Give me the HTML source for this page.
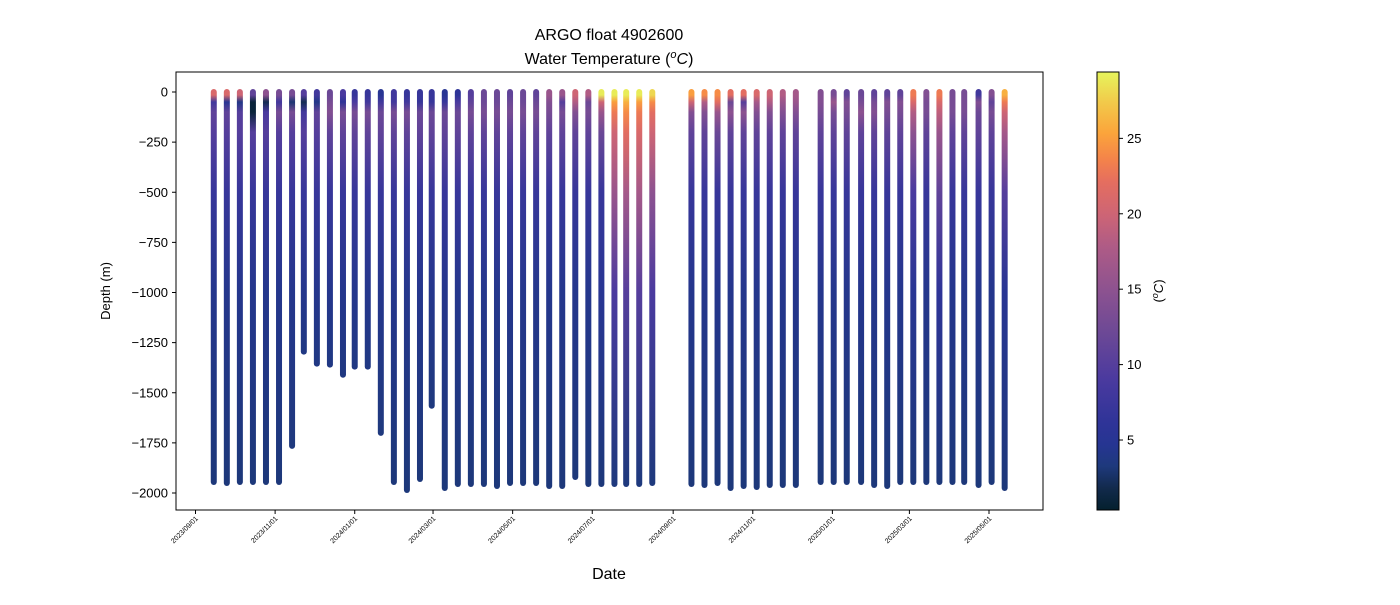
<!DOCTYPE html>
<html><head><meta charset="utf-8"><style>
body{margin:0;background:#fff;}
svg text{font-family:"Liberation Sans","DejaVu Sans",sans-serif;}
</style></head><body>
<svg id="chart" xmlns="http://www.w3.org/2000/svg" width="1400" height="600" viewBox="0 0 1400 600">
<defs id="defs"></defs>
<text x="609" y="40" font-size="16" text-anchor="middle">ARGO float 4902600</text>
<text x="609" y="64" font-size="16" text-anchor="middle">Water Temperature (<tspan font-style="italic" font-size="11" dy="-6">o</tspan><tspan font-style="italic" dy="6">C</tspan>)</text>
<g id="plot"></g>
<rect x="176" y="72" width="867" height="438" fill="none" stroke="#000" stroke-width="1"/>
<g id="yaxis"></g>
<g id="xaxis"></g>
<text transform="translate(110,291) rotate(-90)" font-size="13" text-anchor="middle">Depth (m)</text>
<text x="609" y="579" font-size="16" text-anchor="middle">Date</text>
<g id="cbar"></g>
<text transform="translate(1163,291) rotate(-90)" font-size="13" text-anchor="middle">(<tspan font-style="italic" font-size="9" dy="-5">o</tspan><tspan font-style="italic" dy="5">C</tspan>)</text>
</svg>
<script>
// ---- data ----
const profileDates = ["2023-09-15","2023-09-25","2023-10-05","2023-10-15","2023-10-25","2023-11-04","2023-11-14","2023-11-23","2023-12-03","2023-12-13","2023-12-23","2024-01-01","2024-01-11","2024-01-21","2024-01-31","2024-02-10","2024-02-20","2024-02-29","2024-03-10","2024-03-20","2024-03-30","2024-04-09","2024-04-19","2024-04-29","2024-05-09","2024-05-19","2024-05-29","2024-06-08","2024-06-18","2024-06-28","2024-07-08","2024-07-18","2024-07-27","2024-08-06","2024-08-16","2024-09-15","2024-09-25","2024-10-05","2024-10-15","2024-10-25","2024-11-04","2024-11-14","2024-11-24","2024-12-04","2024-12-23","2025-01-02","2025-01-12","2025-01-23","2025-02-02","2025-02-12","2025-02-22","2025-03-04","2025-03-14","2025-03-24","2025-04-03","2025-04-12","2025-04-23","2025-05-03","2025-05-13"];
const maxDepths = [1945,1950,1945,1945,1945,1945,1765,1295,1355,1360,1410,1370,1370,1700,1945,1985,1930,1565,1975,1955,1955,1955,1965,1950,1950,1950,1965,1965,1920,1955,1955,1955,1955,1955,1950,1955,1960,1950,1975,1965,1970,1960,1960,1960,1945,1945,1945,1945,1960,1965,1945,1945,1945,1945,1945,1945,1960,1945,1975];
const levelDepths = [0,50,100,200,500,1000,2000];
const tSurface = [21,21,20,11,15,13,13,10,8,12,9,7,7,5,8,7,7,7,5,6,10,12,12,11,12,11,16,16,20,18,29,29,29,29,28,25,24,24,22,22,21,20,18,17,14,13,11,12,11,11,11,23,14,23,13,13,8,14,26];
const t50 = [8,5,4,1,2,8,3,2,4,13,6,9,8,8,8,8,7,7,7,9,11,12,12,12,12,12,14,10,18,12,20,25,26,25,24,20,18,22,12,10,17,18,16,16,14,16,14,13,13,14,14,21,13,21,13,13,14,11,23];
const t100 = [11,11,10,1,9,13,13,8,11,14,13,13,13,12,13,13,12,12,12,12,13,13,13,13,13,13,13,13,14,13,16,23,24,23,22,14,14,16,15,15,14,14,14,14,13,13,13,15,14,13,13,18,13,19,13,13,12,13,20];
const t200 = [10,10,10,10,10,10,10,10,10,11,11,11,11,11,11,11,11,11,11,11,11,11,11,11,11,11,11,11,11,11,12,20,22,21,20,11,11,12,11,11,11,11,11,11,11,11,11,11,11,11,11,15,11,16,11,11,11,11,17];
const t500 = [7,7,7,7,7,7,7,7,7,7,7,7,7,7,7,7,7,7,7,7,7,7,7,7,7,7,7,7,7,7,7,16,17,17,15,7,7,7,7,7,7,7,7,7,7,7,7,7,7,7,7,9,7,11,7,7,7,7,10];
const t1000 = [4.3,4.3,4.3,4.3,4.3,4.3,4.3,4.3,4.3,4.3,4.3,4.3,4.3,4.3,4.3,4.3,4.3,4.3,4.3,4.3,4.3,4.3,4.3,4.3,4.3,4.3,4.3,4.3,4.3,4.3,5,9,10,10,9,4.3,4.3,4.3,4.3,4.3,4.3,4.3,4.3,4.3,4.3,4.3,4.3,4.3,4.3,4.3,4.3,5,4.3,6,4.3,4.3,4.3,4.3,5];
const tBottom = [3.2,3.2,3.2,3.2,3.2,3.2,3.4,3.7,3.7,3.7,3.6,3.7,3.7,3.4,3.2,3.2,3.2,3.4,3.2,3.2,3.2,3.2,3.2,3.2,3.2,3.2,3.2,3.2,3.2,3.2,3.2,3.3,3.3,3.3,3.3,3.2,3.2,3.2,3.2,3.2,3.2,3.2,3.2,3.2,3.2,3.2,3.2,3.2,3.2,3.2,3.2,3.2,3.2,3.2,3.2,3.2,3.2,3.2,3.2];
const yTicks = [0,-250,-500,-750,-1000,-1250,-1500,-1750,-2000];
const xTickLabels = ["2023/09/01","2023/11/01","2024/01/01","2024/03/01","2024/05/01","2024/07/01","2024/09/01","2024/11/01","2025/01/01","2025/03/01","2025/05/01"];
const cbTicks = [5,10,15,20,25];
const tMin = 0.36, tMax = 29.4;

// ---- scales ----
const NS="http://www.w3.org/2000/svg";
const d0 = Date.UTC(2023,8,1), d1 = Date.UTC(2025,4,1);
function xScale(s){const p=s.split(/[-\/]/).map(Number);const t=Date.UTC(p[0],p[1]-1,p[2]);return 195.5+(t-d0)/(d1-d0)*(989-195.5);}
function yScale(v){return 92+(-v)*(493-92)/2000;}
const cmap=[[0,"#04202e"],[0.05,"#122a4c"],[0.1,"#1e397c"],[0.15,"#263592"],[0.2,"#2f3498"],[0.3,"#4b3a9f"],[0.4,"#6b4896"],[0.5,"#8c5290"],[0.6,"#ae5b86"],[0.67,"#cc6476"],[0.75,"#e56e5f"],[0.8,"#f4834a"],[0.86,"#fba43b"],[0.93,"#f2c94a"],[1,"#e6f55c"]];
function hex(h){return [1,3,5].map(i=>parseInt(h.substr(i,2),16));}
function color(t){let f=(t-tMin)/(tMax-tMin);f=Math.max(0,Math.min(1,f));
 for(let i=1;i<cmap.length;i++){if(f<=cmap[i][0]){const a=cmap[i-1],b=cmap[i];const u=(f-a[0])/(b[0]-a[0]);const A=hex(a[1]),B=hex(b[1]);return "rgb("+A.map((v,k)=>Math.round(v+(B[k]-v)*u)).join(",")+")";}}
 return cmap[cmap.length-1][1];}
function el(tag,attrs,parent){const e=document.createElementNS(NS,tag);for(const k in attrs)e.setAttribute(k,attrs[k]);parent.appendChild(e);return e;}

const defs=document.getElementById('defs'), plot=document.getElementById('plot');
profileDates.forEach((ds,i)=>{
 const x=xScale(ds), maxD=maxDepths[i];
 const temps=[tSurface[i],t50[i],t100[i],t200[i],t500[i],t1000[i],tBottom[i]];
 const yTop=yScale(0)-3, yBot=yScale(-maxD)+3;
 const g=el('linearGradient',{id:'g'+i,gradientUnits:'userSpaceOnUse',x1:0,y1:yTop,x2:0,y2:yBot},defs);
 el('stop',{offset:0,'stop-color':color(temps[0])},g);
 levelDepths.forEach((dd,k)=>{ if(dd>maxD && k>0 && levelDepths[k-1]>=maxD) return;
   const dep=Math.min(dd,maxD);
   const off=(yScale(-dep)+ (k===0?3:0) -yTop)/(yBot-yTop);
   el('stop',{offset:Math.max(0,Math.min(1,off)),'stop-color':color(temps[k])},g);});
 const r=el('rect',{x:x-3,y:yTop,width:6,height:yBot-yTop,rx:3,ry:3,fill:'url(#g'+i+')'},plot);
 
 
});

const ya=document.getElementById('yaxis');
yTicks.forEach(v=>{const y=yScale(v);
 const l=el('line',{x1:172,x2:176,y1:y,y2:y,stroke:'#000'},ya);
 
 
 const t=el('text',{x:168,y:y+4.5,'font-size':13,'text-anchor':'end'},ya);t.textContent=v===0?'0':'\u2212'+(-v);
 
 });
const xa=document.getElementById('xaxis');
xTickLabels.forEach(s=>{const x=xScale(s);
 const l=el('line',{x1:x,x2:x,y1:510,y2:514,stroke:'#000'},xa);
 
 
 const t=el('text',{transform:'translate('+(x+3)+',519) rotate(-45)','font-size':7,'text-anchor':'end'},xa);t.textContent=s;
 
 });

const cb=document.getElementById('cbar');
const cg=el('linearGradient',{id:'cbg',x1:0,y1:1,x2:0,y2:0},defs);
cmap.forEach(c=>el('stop',{offset:c[0],'stop-color':c[1]},cg));
el('rect',{x:1097,y:72,width:22,height:438,fill:'url(#cbg)',stroke:'#000','stroke-width':1},cb);
cbTicks.forEach(v=>{const y=510-(v-tMin)/(tMax-tMin)*438;
 const l=el('line',{x1:1119,x2:1123,y1:y,y2:y,stroke:'#000'},cb);
 
 
 const t=el('text',{x:1127,y:y+4.5,'font-size':13},cb);t.textContent=v;
 
 });
</script>
</body></html>
